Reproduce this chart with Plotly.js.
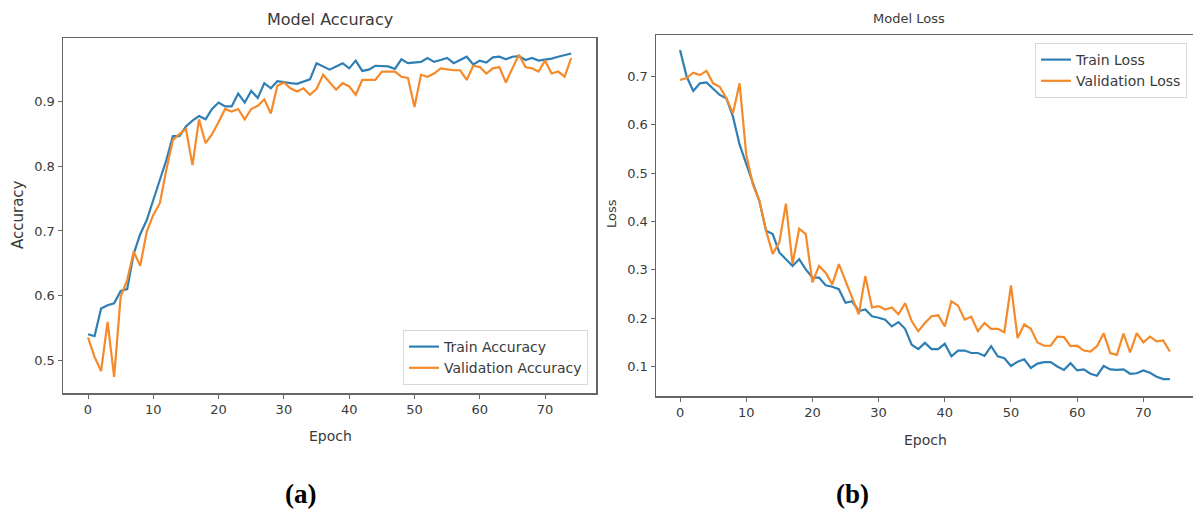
<!DOCTYPE html>
<html>
<head>
<meta charset="utf-8">
<script src="https://cdn.plot.ly/plotly-3.0.1.min.js"></script>
<style>html,body{margin:0;padding:0;background:#fff;}#chart{width:1193px;height:518px;}</style>
</head>
<body>
<div id="chart"></div>
<script>
const epochs = Array.from({length: 75}, (_, i) => i);

const trainAcc = [0.540,0.537,0.580,0.585,0.588,0.607,0.610,0.665,0.695,0.717,
0.748,0.779,0.810,0.847,0.847,0.862,0.871,0.878,0.873,0.889,
0.899,0.893,0.893,0.913,0.899,0.917,0.906,0.929,0.921,0.932,
0.930,0.929,0.928,0.932,0.935,0.960,0.955,0.950,0.955,0.960,
0.952,0.964,0.948,0.950,0.956,0.956,0.955,0.951,0.966,0.960,
0.961,0.962,0.968,0.962,0.965,0.968,0.960,0.965,0.970,0.958,
0.964,0.961,0.969,0.970,0.966,0.970,0.971,0.965,0.968,0.964,
0.965,0.967,0.970,0.972,0.975];

const valAcc = [0.535,0.505,0.483,0.559,0.474,0.598,0.624,0.668,0.646,0.699,
0.725,0.743,0.795,0.841,0.850,0.858,0.802,0.873,0.836,0.850,
0.869,0.889,0.885,0.889,0.873,0.889,0.894,0.904,0.882,0.925,
0.930,0.921,0.916,0.921,0.911,0.920,0.942,0.930,0.919,0.929,
0.924,0.911,0.934,0.934,0.934,0.947,0.947,0.947,0.939,0.937,
0.892,0.942,0.939,0.944,0.952,0.950,0.949,0.949,0.934,0.956,
0.954,0.944,0.952,0.954,0.930,0.952,0.973,0.954,0.952,0.947,
0.964,0.944,0.947,0.939,0.968];

const trainLoss = [0.755,0.700,0.670,0.686,0.688,0.676,0.662,0.655,0.617,0.559,
0.518,0.480,0.442,0.381,0.374,0.336,0.322,0.308,0.322,0.301,
0.284,0.284,0.268,0.265,0.260,0.232,0.235,0.215,0.218,0.204,
0.201,0.197,0.183,0.192,0.178,0.145,0.136,0.149,0.136,0.136,
0.147,0.121,0.133,0.133,0.128,0.128,0.122,0.142,0.121,0.117,
0.101,0.110,0.115,0.097,0.106,0.109,0.109,0.100,0.093,0.107,
0.092,0.094,0.085,0.081,0.101,0.094,0.093,0.094,0.085,0.086,
0.092,0.087,0.079,0.074,0.074];

const valLoss = [0.693,0.697,0.708,0.703,0.712,0.686,0.679,0.655,0.624,0.686,
0.539,0.477,0.442,0.381,0.333,0.357,0.437,0.312,0.385,0.374,
0.274,0.308,0.294,0.270,0.312,0.277,0.242,0.208,0.287,0.222,
0.225,0.218,0.222,0.208,0.231,0.194,0.173,0.190,0.204,0.206,
0.183,0.235,0.226,0.197,0.203,0.173,0.190,0.178,0.178,0.171,
0.268,0.159,0.187,0.178,0.150,0.143,0.143,0.162,0.161,0.142,
0.143,0.133,0.131,0.142,0.169,0.128,0.124,0.168,0.129,0.169,
0.150,0.162,0.152,0.154,0.131];

const xTicks = [0,10,20,30,40,50,60,70];
const accTicks = [0.5,0.6,0.7,0.8,0.9];
const lossTicks = [0.1,0.2,0.3,0.4,0.5,0.6,0.7];

const W = 1193, H = 518;
const px = x => x / W;
const py = y => 1 - y / H;

const BLUE = '#2f7fb5';
const ORANGE = '#f58a2a';
const FONT = 'DejaVu Sans, sans-serif';
const TXT = '#3a3a3a';

const traces = [
  {x: epochs, y: trainAcc, name: 'Train Accuracy', mode: 'lines', line: {color: BLUE, width: 2.2}, xaxis: 'x', yaxis: 'y', legend: 'legend'},
  {x: epochs, y: valAcc, name: 'Validation Accuracy', mode: 'lines', line: {color: ORANGE, width: 2.2}, xaxis: 'x', yaxis: 'y', legend: 'legend'},
  {x: epochs, y: trainLoss, name: 'Train Loss', mode: 'lines', line: {color: BLUE, width: 2.2}, xaxis: 'x2', yaxis: 'y2', legend: 'legend2'},
  {x: epochs, y: valLoss, name: 'Validation Loss', mode: 'lines', line: {color: ORANGE, width: 2.2}, xaxis: 'x2', yaxis: 'y2', legend: 'legend2'}
];

const axBase = {
  showline: true, mirror: true, linecolor: '#666', linewidth: 1.5,
  ticks: 'outside', ticklen: 4, tickwidth: 1, tickcolor: '#666',
  showgrid: false, zeroline: false,
  tickfont: {family: FONT, size: 13, color: TXT}
};

const annBase = {xref: 'paper', yref: 'paper', showarrow: false, xanchor: 'center', yanchor: 'middle'};
const ann = (text, x, y, size, extra) => Object.assign({}, annBase, {text: text, x: px(x), y: py(y), font: {family: FONT, size: size, color: TXT}}, extra || {});

const layout = {
  width: W, height: H,
  margin: {l: 0, r: 0, t: 0, b: 0},
  paper_bgcolor: '#fff', plot_bgcolor: '#fff',
  showlegend: true,
  xaxis: Object.assign({}, axBase, {domain: [px(63), px(596)], range: [-3.83, 77.8], tickvals: xTicks, anchor: 'y'}),
  yaxis: Object.assign({}, axBase, {domain: [py(393), py(38)], range: [0.449, 0.999], tickvals: accTicks, ticktext: accTicks.map(v => v.toFixed(1)), anchor: 'x'}),
  xaxis2: Object.assign({}, axBase, {domain: [px(656), 1], range: [-3.63, 77.5], tickvals: xTicks, anchor: 'y2'}),
  yaxis2: Object.assign({}, axBase, {domain: [py(396), py(35)], range: [0.039, 0.786], tickvals: lossTicks, ticktext: lossTicks.map(v => v.toFixed(1)), anchor: 'x2'}),
  legend: {
    x: px(588), y: py(385), xanchor: 'right', yanchor: 'bottom',
    bgcolor: 'rgba(255,255,255,0.9)', bordercolor: '#d8d8d8', borderwidth: 1,
    font: {family: FONT, size: 14, color: TXT}, tracegroupgap: 0
  },
  legend2: {
    x: px(1187), y: py(43), xanchor: 'right', yanchor: 'top',
    bgcolor: 'rgba(255,255,255,0.9)', bordercolor: '#d8d8d8', borderwidth: 1,
    font: {family: FONT, size: 14, color: TXT}, tracegroupgap: 0
  },
  annotations: [
    ann('Model Accuracy', 330, 19, 16),
    ann('Model Loss', 909, 18, 13),
    ann('Epoch', 330, 436, 14),
    ann('Epoch', 925, 440, 14),
    ann('Accuracy', 18, 215, 15, {textangle: -90}),
    ann('Loss', 611, 214, 13, {textangle: -90}),
    Object.assign({}, annBase, {text: '<b>(a)</b>', x: px(300), y: py(494), font: {family: 'Liberation Serif, serif', size: 27, color: '#000'}}),
    Object.assign({}, annBase, {text: '<b>(b)</b>', x: px(852), y: py(494), font: {family: 'Liberation Serif, serif', size: 27, color: '#000'}})
  ]
};

Plotly.newPlot('chart', traces, layout, {staticPlot: true, displayModeBar: false});
</script>
</body>
</html>
